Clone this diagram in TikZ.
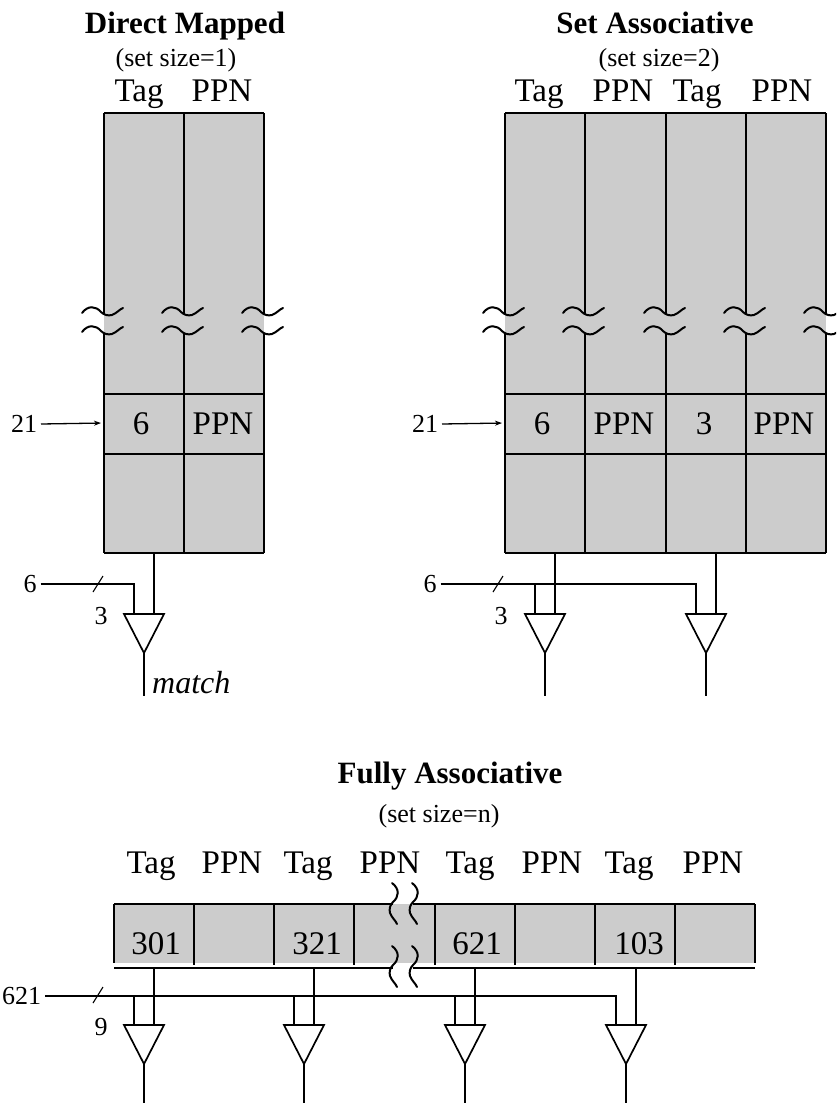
\documentclass[tikz,border=0pt]{standalone}
\usepackage{fontspec}
\setmainfont{Liberation Serif}
\usetikzlibrary{arrows.meta}
\begin{document}
\begin{tikzpicture}[x=1pt,y=-1pt,
  grid/.style={line width=1.4pt},
  wire/.style={line width=1.3pt},
  slashmark/.style={line width=1.1pt},
  tri/.style={line width=1.7pt, line join=miter},
  cellfill/.style={fill=black!20},
  ttl/.style={font=\fontsize{31}{34}\selectfont\bfseries, anchor=base, inner sep=0},
  subttl/.style={font=\fontsize{26}{29}\selectfont, anchor=base, inner sep=0},
  hdr/.style={font=\fontsize{33}{36}\selectfont, anchor=base, inner sep=0},
  val/.style={font=\fontsize{33}{36}\selectfont, anchor=base, inner sep=0},
  pin/.style={font=\fontsize{26}{29}\selectfont, inner sep=0, outer sep=4pt},
  wavy/.style={line width=2pt, line cap=round},
  hbreak/.pic={\draw[wavy] (-22,1) .. controls (-16,-7) and (-8,-6) .. (-3,0)
      .. controls (0,3) and (4,4) .. (8,3) .. controls (13,1) and (16,-3) .. (19,-4);},
  vbreak/.pic={\draw[wavy] (-1,-22) .. controls (7,-16) and (6,-8) .. (0,-3)
      .. controls (-3,0) and (-4,4) .. (-3,8) .. controls (-1,13) and (3,16) .. (4,19);},
  cmp/.pic={
    \coordinate (-a) at (-10,0);
    \coordinate (-b) at (10,0);
    \coordinate (-o) at (0,39);
    \coordinate (-e) at (0,82);
    \draw[tri] (-20,0) -- (20,0) -- (-o) -- cycle;
    \draw[wire] (-o) -- (-e);}
]
\useasboundingbox (0,0) rectangle (836,1103);
\clip (0,0) rectangle (836,1103);

% ---------------- Direct mapped ----------------
\node[ttl] (dmTitle) at (185,33) {Direct Mapped};
\node[subttl] (dmSub) at (176,66) {(set size=1)};
\node[hdr] (dmTag) at (139,101) {Tag};
\node[hdr] (dmPPN) at (222,101) {PPN};
\fill[cellfill] (104,113) rectangle (264,553);
\foreach \y in {113,394,454,553} \draw[grid] (104,\y) -- (264,\y);
\foreach \x in {104,184,264} {
  \draw[grid] (\x,113) -- (\x,315);
  \draw[grid] (\x,334) -- (\x,553);
  \pic at (\x,312) {hbreak};
  \pic at (\x,331) {hbreak};
}
\node[val] (dmV1) at (141,434) {6};
\node[val] (dmV2) at (223,434) {PPN};
\coordinate (dmRow) at (104,423);
\node[pin] (dmIdx) at (24,424) {21};
\draw[wire, -{Stealth[length=7pt,width=5pt]}, shorten >=3pt] (dmIdx.east) -- (dmRow);

\coordinate (dmBot) at (0,553);
\pic (dmC) at (144,614) {cmp};
\draw[wire] (dmC-b |- dmBot) -- (dmC-b);
\node[pin] (dmKey) at (30,584) {6};
\draw[wire] (dmKey.east) -| (dmC-a);
\coordinate (dmSl) at (98,584);
\draw[slashmark] ([shift={(-5,8)}]dmSl) -- ([shift={(5,-8)}]dmSl);
\node[pin] (dmW) at (101,616) {3};
\node[font=\fontsize{32}{34}\selectfont\itshape, anchor=base west, inner sep=0] (dmMatch) at (152,693) {match};

% ---------------- Set associative ----------------
\node[ttl] (saTitle) at (655,33) {Set Associative};
\node[subttl] (saSub) at (659,66) {(set size=2)};
\node[hdr] (saH1) at (539,101) {Tag};
\node[hdr] (saH2) at (623,101) {PPN};
\node[hdr] (saH3) at (697,101) {Tag};
\node[hdr] (saH4) at (782,101) {PPN};
\fill[cellfill] (505,113) rectangle (826,553);
\foreach \y in {113,394,454,553} \draw[grid] (505,\y) -- (826,\y);
\foreach \x in {505,585,666,746,826} {
  \draw[grid] (\x,113) -- (\x,315);
  \draw[grid] (\x,334) -- (\x,553);
  \pic at (\x,312) {hbreak};
  \pic at (\x,331) {hbreak};
}
\node[val] (saV1) at (542,434) {6};
\node[val] (saV2) at (624,434) {PPN};
\node[val] (saV3) at (704,434) {3};
\node[val] (saV4) at (784,434) {PPN};
\coordinate (saRow) at (505,423);
\node[pin] (saIdx) at (425,424) {21};
\draw[wire, -{Stealth[length=7pt,width=5pt]}, shorten >=3pt] (saIdx.east) -- (saRow);

\coordinate (saBot) at (0,553);
\pic (saC1) at (545,614) {cmp};
\pic (saC2) at (706,614) {cmp};
\draw[wire] (saC1-b |- saBot) -- (saC1-b);
\draw[wire] (saC2-b |- saBot) -- (saC2-b);
\node[pin] (saKey) at (430,584) {6};
\draw[wire] (saKey.east) -| (saC2-a);
\draw[wire] (saC1-a |- saKey.east) -- (saC1-a);
\coordinate (saSl) at (498,584);
\draw[slashmark] ([shift={(-5,8)}]saSl) -- ([shift={(5,-8)}]saSl);
\node[pin] (saW) at (501,616) {3};

% ---------------- Fully associative ----------------
\node[ttl] (faTitle) at (450,783) {Fully Associative};
\node[subttl] (faSub) at (439,822) {(set size=n)};
\foreach \lbl/\x [count=\i] in {Tag/151,PPN/232,Tag/308,PPN/390,Tag/470,PPN/552,Tag/629,PPN/713}
  \node[hdr] (faH\i) at (\x,873) {\lbl};
\fill[cellfill] (114,904) rectangle (755,963);
\draw[grid] (114,904) -- (393,904);
\draw[grid] (413,904) -- (755,904);
\draw[grid] (114,968) -- (393,968);
\draw[grid] (413,968) -- (755,968);
\foreach \x in {114,755} \draw[grid] (\x,904) -- (\x,963);
\foreach \x in {194,274,354,435,515,595,675} \draw[grid] (\x,904) -- (\x,965);
\foreach \x in {393,413} {
  \pic at (\x,905) {vbreak};
  \pic at (\x,968) {vbreak};
}
\node[val] (faV1) at (156,954) {301};
\node[val] (faV2) at (317,954) {321};
\node[val] (faV3) at (477,954) {621};
\node[val] (faV4) at (639,954) {103};

\coordinate (faBot) at (0,968);
\pic (faC1) at (144,1025) {cmp};
\pic (faC2) at (304,1025) {cmp};
\pic (faC3) at (465,1025) {cmp};
\pic (faC4) at (626,1025) {cmp};
\foreach \i in {1,...,4} \draw[wire] (faC\i-b |- faBot) -- (faC\i-b);
\node[pin, anchor=east] (faKey) at (45,996) {621};
\draw[wire] (faKey.east) -| (faC4-a);
\foreach \i in {1,2,3} \draw[wire] (faC\i-a |- faKey.east) -- (faC\i-a);
\coordinate (faSl) at (98,995);
\draw[slashmark] ([shift={(-5,8)}]faSl) -- ([shift={(5,-8)}]faSl);
\node[pin] (faW) at (101,1027) {9};
\end{tikzpicture}
\end{document}
